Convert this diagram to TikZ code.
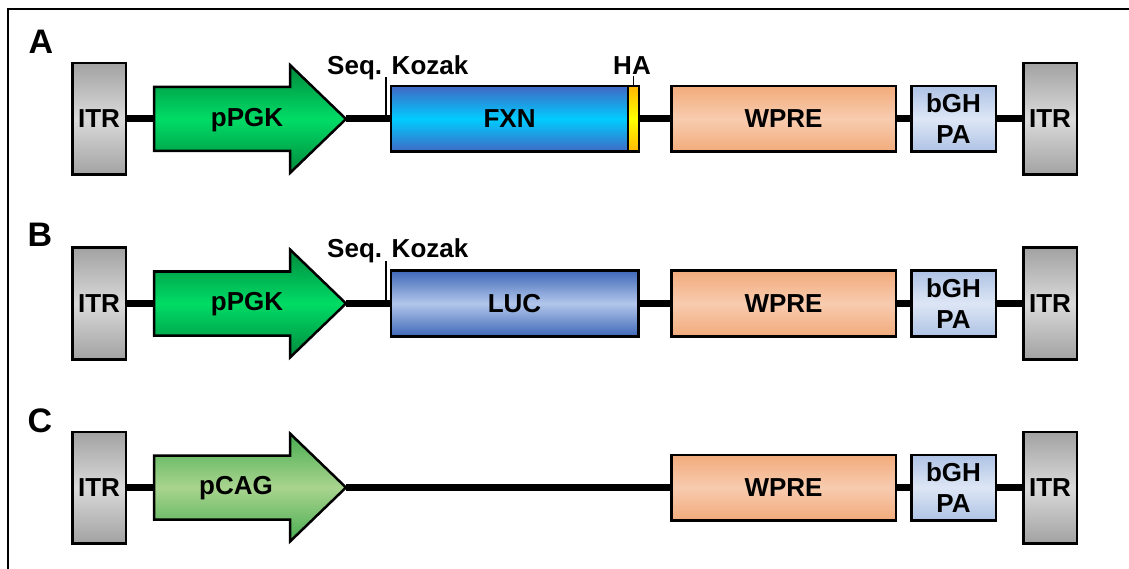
\documentclass[tikz,border=0pt]{standalone}
\usepackage{fontspec}
\setmainfont{Liberation Sans}
\definecolor{itrdark}{HTML}{A2A2A2}
\definecolor{itrlight}{HTML}{DADADA}
\definecolor{pgkdark}{HTML}{00893C}
\definecolor{pgklight}{HTML}{00DC66}
\definecolor{cagdark}{HTML}{48AD50}
\definecolor{caglight}{HTML}{A9D48F}
\definecolor{fxndark}{HTML}{4068C4}
\definecolor{fxnlight}{HTML}{00CCFF}
\definecolor{hadark}{HTML}{FFB800}
\definecolor{halight}{HTML}{FFFF00}
\definecolor{lucdark}{HTML}{3F68B8}
\definecolor{luclight}{HTML}{B2C6EA}
\definecolor{wpredark}{HTML}{F1AB7B}
\definecolor{wprelight}{HTML}{F8CCAF}
\definecolor{bghdark}{HTML}{AFC3E5}
\definecolor{bghlight}{HTML}{DDE6F5}
\begin{document}
\begin{tikzpicture}[x=1pt,y=-1pt,
  lab/.style={font=\fontsize{26}{31}\selectfont\bfseries, inner sep=0pt},
  part/.style={draw, line width=2.5pt, inner sep=0pt, lab},
  itr/.style={part, minimum width=53.5pt, minimum height=111.5pt,
    top color=itrdark, bottom color=itrdark, middle color=itrlight},
  gene/.style={part, minimum height=65.5pt},
  fxnbox/.style={gene, minimum width=236.75pt, top color=fxndark, bottom color=fxndark, middle color=fxnlight},
  habox/.style={gene, minimum width=10.75pt, top color=hadark, bottom color=hadark, middle color=halight},
  lucbox/.style={gene, minimum width=247.5pt, top color=lucdark, bottom color=lucdark, middle color=luclight},
  wprebox/.style={gene, minimum width=224.5pt, top color=wpredark, bottom color=wpredark, middle color=wprelight},
  bghbox/.style={gene, minimum width=84.5pt, align=center, top color=bghdark, bottom color=bghdark, middle color=bghlight},
  pgkshade/.style={top color=pgkdark, bottom color=pgkdark, middle color=pgklight},
  cagshade/.style={top color=cagdark, bottom color=cagdark, middle color=caglight},
  prom/.style={draw, line width=2.5pt, line join=miter},
  dna/.style={line width=7pt},
  ticker/.style={line width=1.5pt},
  panel/.style={font=\fontsize{34}{40}\selectfont\bfseries, inner sep=0pt}
]
\useasboundingbox (0,0) rectangle (1129,569);
\fill[white] (0,0) rectangle (1129,569);
\draw[line width=2.5pt] (8,572) -- (8,9) -- (1132,9);

% panel letters
\node[panel] (lblA) at (41,42) {A};
\node[panel] (lblB) at (40,235) {B};
\node[panel] (lblC) at (40,421) {C};

% ---------- Row A ----------
\begin{scope}[shift={(0,119)}]
  \node[itr] (itrA1) at (99,0) {ITR};
  \draw[prom, pgkshade] (154,-32) -- (290,-32) -- (290,-54) -- (346,0) -- (290,54) -- (290,32) -- (154,32) -- cycle;
  \coordinate (pgkAin) at (154,0);
  \coordinate (pgkAtip) at (346,0);
  \node[lab] (pgkA) at (247,1) {pPGK};
  \node[fxnbox] (fxnA) at (509.6,0) {FXN};
  \node[habox] (haA) at (633.4,0) {};
  \node[wprebox] (wpreA) at (783.5,0) {WPRE};
  \node[bghbox] (bghA) at (953.5,0) {bGH\\PA};
  \node[itr] (itrA2) at (1050,0) {ITR};
  \draw[dna] (itrA1.east) -- (pgkAin);
  \draw[dna] (pgkAtip) -- (fxnA.west);
  \draw[dna] (haA.east) -- (wpreA.west);
  \draw[dna] (wpreA.east) -- (bghA.west);
  \draw[dna] (bghA.east) -- (itrA2.west);
  \coordinate (kozAtop) at (386,-42);
  \coordinate (kozAbot) at (386,0);
  \draw[ticker] (kozAtop) -- (kozAbot);
  \node[lab, anchor=base west] (kozAlbl) at (327,-44) {Seq. Kozak};
  \coordinate (haAtop) at (633.4,-43);
  \draw[ticker] (haAtop) -- (haA.north);
  \node[lab, anchor=base] (haAlbl) at (632,-44) {HA};
\end{scope}

% ---------- Row B ----------
\begin{scope}[shift={(0,303.5)}]
  \node[itr] (itrB1) at (99,0) {ITR};
  \draw[prom, pgkshade] (154,-32) -- (290,-32) -- (290,-54) -- (346,0) -- (290,54) -- (290,32) -- (154,32) -- cycle;
  \coordinate (pgkBin) at (154,0);
  \coordinate (pgkBtip) at (346,0);
  \node[lab] (pgkB) at (247,1) {pPGK};
  \node[lucbox] (lucB) at (514.5,0) {LUC};
  \node[wprebox] (wpreB) at (783.5,0) {WPRE};
  \node[bghbox] (bghB) at (953.5,0) {bGH\\PA};
  \node[itr] (itrB2) at (1050,0) {ITR};
  \draw[dna] (itrB1.east) -- (pgkBin);
  \draw[dna] (pgkBtip) -- (lucB.west);
  \draw[dna] (lucB.east) -- (wpreB.west);
  \draw[dna] (wpreB.east) -- (bghB.west);
  \draw[dna] (bghB.east) -- (itrB2.west);
  \coordinate (kozBtop) at (386,-42);
  \coordinate (kozBbot) at (386,0);
  \draw[ticker] (kozBtop) -- (kozBbot);
  \node[lab, anchor=base west] (kozBlbl) at (327,-46) {Seq. Kozak};
\end{scope}

% ---------- Row C ----------
\begin{scope}[shift={(0,487.5)}]
  \node[itr] (itrC1) at (99,0) {ITR};
  \draw[prom, cagshade] (154,-32) -- (290,-32) -- (290,-54) -- (346,0) -- (290,54) -- (290,32) -- (154,32) -- cycle;
  \coordinate (cagCin) at (154,0);
  \coordinate (cagCtip) at (346,0);
  \node[lab] (cagC) at (236,1) {pCAG};
  \node[wprebox] (wpreC) at (783.5,0) {WPRE};
  \node[bghbox] (bghC) at (953.5,0) {bGH\\PA};
  \node[itr] (itrC2) at (1050,0) {ITR};
  \draw[dna] (itrC1.east) -- (cagCin);
  \draw[dna] (cagCtip) -- (wpreC.west);
  \draw[dna] (wpreC.east) -- (bghC.west);
  \draw[dna] (bghC.east) -- (itrC2.west);
\end{scope}
\end{tikzpicture}
\end{document}
